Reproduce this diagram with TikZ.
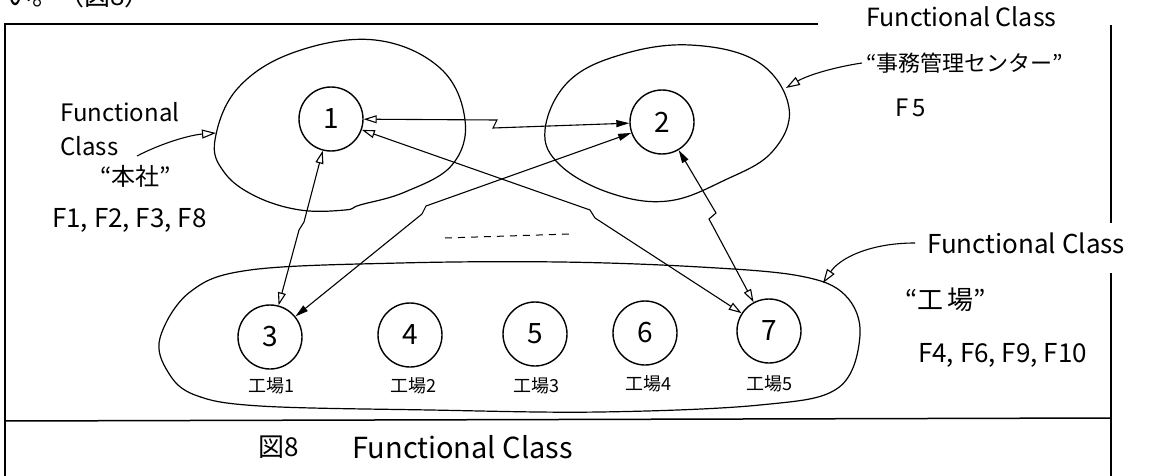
\documentclass[tikz,border=0pt]{standalone}
\usepackage{fontspec}
\setmainfont{Noto Sans CJK JP}
\usetikzlibrary{arrows.meta,calc}
\begin{document}
\begin{tikzpicture}[x=1pt,y=-1pt,
  frame/.style={line width=1.5pt},
  cls/.style={line width=1.2pt},
  nd/.style={circle, draw, line width=1.4pt, minimum size=64pt, inner sep=0pt, font=\fontsize{28}{28}\selectfont},
  lab/.style={font=\fontsize{18}{18}\selectfont},
  txt/.style={font=\fontsize{24}{26}\selectfont, anchor=west, inner sep=0pt},
  link/.style={line width=1.1pt, line join=miter},
  otip/.tip={Triangle[open,length=13pt,width=8pt]},
  ftip/.tip={Triangle[length=13pt,width=7pt]},
  callout/.style={line width=1.1pt, -{Triangle[open,length=14pt,width=9pt]}}
]
\useasboundingbox (0,0) rectangle (1149,476);

% partial text at top (cut off)
\node[font=\fontsize{26}{26}\selectfont, anchor=west, inner sep=0pt] (top) at (6,-4) {い。（図8）};

% frame
\draw[frame] (4,24) -- (818,24);
\draw[frame] (5,24) -- (5,476);
\draw[frame] (1111,25) -- (1111,223);
\draw[frame] (1111,273) -- (1111,476);
\draw[frame] (5,421) -- (1111,418);

% class regions
\draw[cls] plot[smooth cycle, tension=0.65] coordinates {(215,140) (238,88) (295,52) (375,40) (440,68) (465,120) (452,165) (405,192) (360,205) (345,210) (300,210) (255,196) (224,172)};
\draw[cls] plot[smooth cycle, tension=0.65] coordinates {(545,130) (568,82) (620,55) (690,45) (758,62) (789,108) (772,152) (725,180) (668,201) (610,193) (560,165)};
\draw[cls] plot[smooth cycle, tension=0.6] coordinates {(160,338) (190,292) (250,270) (400,263) (560,262) (700,267) (800,276) (845,295) (860,335) (838,388) (760,405) (600,412) (430,410) (260,406) (195,395) (168,372)};

% nodes
\node[nd] (1) at (331,119) {1};
\node[nd] (2) at (662,122) {2};
\node[nd] (3) at (270,337) {3};
\node[nd] (4) at (410,335) {4};
\node[nd] (5) at (535,334) {5};
\node[nd] (6) at (645,333) {6};
\node[nd] (7) at (769,331) {7};

\node[lab] (l3) at (271,386) {工場1};
\node[lab] (l4) at (413,386) {工場2};
\node[lab] (l5) at (536,386) {工場3};
\node[lab] (l6) at (648,384) {工場4};
\node[lab] (l7) at (769,384) {工場5};

% jog points
\coordinate (j12a) at (497,120);
\coordinate (j12b) at (493,128);
\coordinate (j13a) at (304,222);
\coordinate (j13b) at (299,230);
\coordinate (j23a) at (426,206);
\coordinate (j23b) at (422,214);
\coordinate (j17a) at (590,210);
\coordinate (j17b) at (595,218);
\coordinate (j27a) at (716,213);
\coordinate (j27b) at (709,219);

% links
\draw[link, otip-ftip] (1) -- (j12a) -- (j12b) -- (2);
\draw[link, otip-otip] (1) -- (j13a) -- (j13b) -- (3);
\draw[link, ftip-ftip] (2) -- (j23a) -- (j23b) -- (3);
\draw[link, otip-otip] (1) -- (j17a) -- (j17b) -- (7);
\draw[link, ftip-otip] (2) -- (j27a) -- (j27b) -- (7);

% dashed ellipsis
\coordinate (d1) at (445,238);
\coordinate (d2) at (570,234);
\draw[line width=1pt, dash pattern=on 7pt off 6pt] (d1) -- (d2);

% labels
\node[txt] (f1a) at (60,112) {Functional};
\node[txt] (f1b) at (60,146) {Class};
\node[txt] (f1c) at (100,176) {“本社”};
\node[txt, font=\fontsize{26}{26}\selectfont] (f1d) at (52,220) {F1, F2, F3, F8};

\node[txt, font=\fontsize{25}{26}\selectfont] (f2a) at (866,17) {Functional Class};
\node[txt, font=\fontsize{22}{26}\selectfont] (f2b) at (866,63) {“事務管理センター”};
\node[txt] (f2c) at (895,108) {F\,5};

\node[txt, font=\fontsize{26}{26}\selectfont] (f3a) at (927,243) {Functional Class};
\node[txt, font=\fontsize{26}{26}\selectfont] (f3b) at (905,300) {“工\,場”};
\node[txt, font=\fontsize{26}{26}\selectfont] (f3c) at (918,355) {F4, F6, F9, F10};

\node[txt, font=\fontsize{26}{26}\selectfont] (cap1) at (258,447) {図8};
\node[txt, font=\fontsize{29}{30}\selectfont] (cap2) at (352,447) {Functional Class};

% callouts
\coordinate (c1s) at (137,156);
\coordinate (c1e) at (216,133);
\coordinate (c2s) at (862,63);
\coordinate (c2e) at (786,88);
\coordinate (c3s) at (915,243);
\coordinate (c3e) at (823,283);
\draw[callout] (c1s) .. controls (162,143) and (190,135) .. (c1e);
\draw[callout] (c2s) .. controls (835,67) and (808,75) .. (c2e);
\draw[callout] (c3s) .. controls (870,243) and (840,258) .. (c3e);
\end{tikzpicture}
\end{document}
